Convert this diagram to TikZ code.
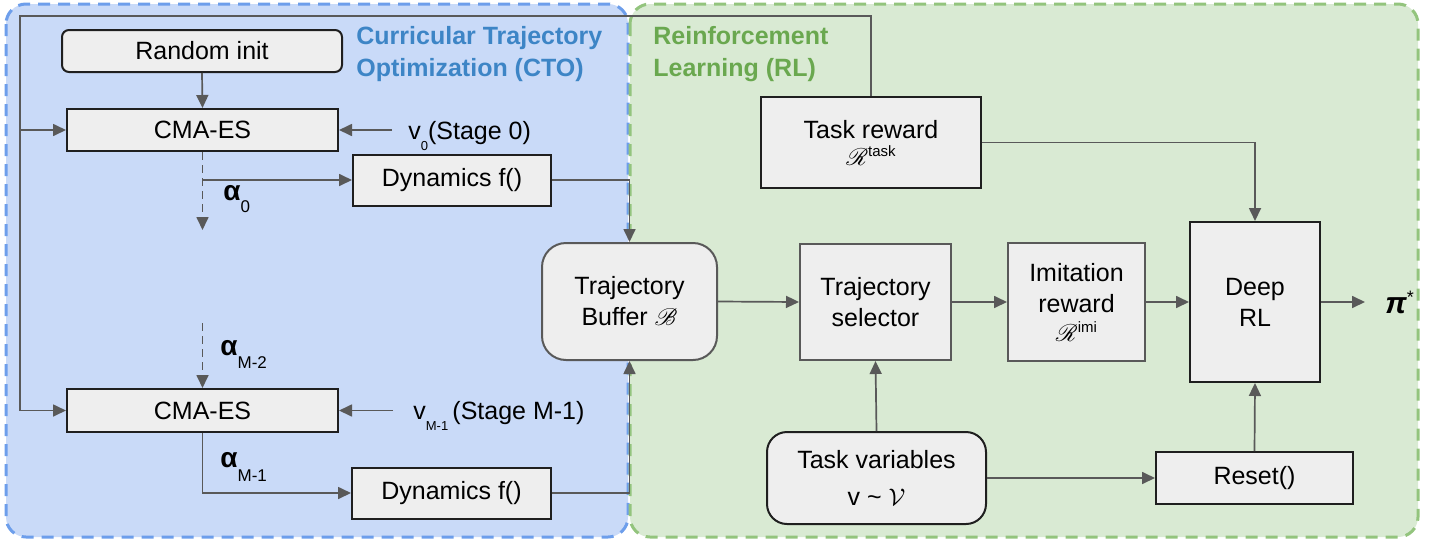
\documentclass[tikz,border=0pt]{standalone}
\usepackage{fontspec}
\setmainfont{Liberation Sans}
\usepackage{amsmath,bm,mathrsfs}
\usetikzlibrary{arrows.meta}

\definecolor{ctofill}{HTML}{C9DAF8}
\definecolor{ctoedge}{HTML}{6D9EEB}
\definecolor{rlfill}{HTML}{D9EAD3}
\definecolor{rledge}{HTML}{93C47D}
\definecolor{boxfill}{HTML}{EEEEEE}
\definecolor{wirecol}{HTML}{595959}
\definecolor{ctotext}{HTML}{3D85C6}
\definecolor{rltext}{HTML}{6AA84F}

% lowered subscript in text font
\newcommand{\lowsub}[3]{\raisebox{-#1}{\fontsize{#2}{#2}\selectfont #3}}
% script R with a raised text superscript
\newcommand{\rwd}[1]{{\fontsize{12}{12}\selectfont$\mathscr{R}$}\raisebox{4.5pt}{\fontsize{7.5}{7.5}\selectfont #1}}
\newcommand{\balpha}{{\fontsize{14}{14}\selectfont\bfseries α}}

\begin{document}
\begin{tikzpicture}[x=0.5pt,y=-0.5pt,
  region/.style={line width=1.5pt, dash pattern=on 6pt off 4pt, rounded corners=10pt},
  box/.style={draw=black!88, line width=1pt, fill=boxfill, inner sep=0pt, align=center,
              font=\fontsize{12.5}{15.5}\selectfont},
  rbox/.style={box, rounded corners=3.5pt},
  gbox/.style={box, draw=wirecol},
  title/.style={anchor=west, align=left, inner sep=0pt, font=\fontsize{12.5}{16}\selectfont\bfseries},
  lbl/.style={inner ysep=0pt, font=\fontsize{12.5}{15}\selectfont},
  wire/.style={draw=wirecol, line width=0.85pt},
  arr/.style={wire, -{Triangle[length=6.5pt,width=6pt]}},
  darr/.style={arr, dash pattern=on 4pt off 2.5pt}]

\useasboundingbox (0,0) rectangle (1434,541);

% the two stage regions
\draw[region, draw=ctoedge, fill=ctofill] (6,4) rectangle (628,537);
\draw[region, draw=rledge, fill=rlfill] (630,4) rectangle (1418,537);

\node[title, text=ctotext] (ctotitle) at (356,54) {Curricular Trajectory\\Optimization (CTO)};
\node[title, text=rltext] (rltitle) at (653,54) {Reinforcement\\Learning (RL)};

% trajectory optimization blocks
\node[rbox, minimum width=140pt, minimum height=21pt] (rinit) at (202,51) {Random init};
\node[box, minimum width=135.5pt, minimum height=21pt] (cmaA) at (202.5,130) {CMA-ES};
\node[box, minimum width=99pt, minimum height=25.5pt] (dynA) at (452,180) {Dynamics f()};
\node[box, minimum width=135.5pt, minimum height=21.5pt] (cmaB) at (202.5,410.5) {CMA-ES};
\node[box, minimum width=99.5pt, minimum height=25.5pt] (dynB) at (451.5,493) {Dynamics f()};

% reinforcement learning blocks
\node[gbox, rounded corners=12pt, minimum width=87.5pt, minimum height=58.5pt] (buf) at (629.5,301.5)
  {Trajectory\\Buffer $\mathscr{B}$};
\node[box, minimum width=110pt, minimum height=45.5pt] (task) at (871,142.5)
  {Task reward\\[-2pt]\rwd{task}};
\node[gbox, minimum width=75.5pt, minimum height=58pt] (sel) at (875.5,302) {Trajectory\\selector};
\node[gbox, minimum width=68.5pt, minimum height=59pt] (imi) at (1076.5,302)
  {Imitation\\reward\\[-1pt]\rwd{imi}};
\node[box, minimum width=65pt, minimum height=80pt] (drl) at (1255,302) {Deep\\RL};
\node[box, minimum width=98.5pt, minimum height=26pt] (reset) at (1254.5,478) {Reset()};
\node[rbox, rounded corners=10pt, minimum width=109.5pt, minimum height=46pt] (tvar) at (876.5,478)
  {Task variables\\[3pt]v \textasciitilde\ {\fontsize{13}{13}\selectfont$\mathcal{V}$}};
\node[anchor=west, inner ysep=0pt, inner xsep=10pt] (pi) at (1365,302)
  {{\fontsize{15}{15}\selectfont\bfseries\itshape π}\raisebox{5pt}{\fontsize{9}{9}\selectfont *}};

% stage inputs and intermediate solutions
\node[lbl, anchor=base west, inner xsep=8pt] (vA) at (392,139)
  {v\lowsub{5.5pt}{6.5}{0}(Stage 0)};
\node[lbl, anchor=base west, inner xsep=10pt] (vB) at (393,419)
  {v\lowsub{5.5pt}{6.5}{M-1}\,(Stage M-1)};
\node[anchor=base west, inner sep=0pt] (alA) at (223,200) {\balpha\lowsub{6pt}{8.5}{0}};
\node[anchor=base west, inner sep=0pt] (alM) at (220,355) {\balpha\lowsub{6.5pt}{8.5}{M-2}};
\node[anchor=base west, inner sep=0pt] (alB) at (220,467) {\balpha\lowsub{7pt}{8.5}{M-1}};

\coordinate (loopTL) at (20,16);
\coordinate (aAend) at (202.5,230);
\coordinate (aMstart) at (202.5,323);

% connectors
\draw[arr] (rinit.south) -- (cmaA.north);
\draw[arr] (task.north) |- (loopTL) |- (cmaB.west);
\draw[arr] (loopTL |- cmaA.west) -- (cmaA.west);
\draw[arr] (vA.west |- cmaA.east) -- (cmaA.east);
\draw[arr] (vB.west |- cmaB.east) -- (cmaB.east);
\draw[darr] (cmaA.south) -- (aAend);
\draw[arr] (cmaA.south |- dynA.west) -- (dynA.west);
\draw[darr] (aMstart) -- (cmaB.north);
\draw[arr] (cmaB.south) |- (dynB.west);
\draw[arr] (dynA.east) -| (buf.north);
\draw[arr] (dynB.east) -| (buf.south);
\draw[arr] (buf.east) -- (sel.west);
\draw[arr] (sel.east) -- (imi.west);
\draw[arr] (imi.east) -- (drl.west);
\draw[arr] (drl.east) -- (pi.west);
\draw[arr] (task.east) -| (drl.north);
\draw[arr] (tvar.north) -- (sel.south);
\draw[arr] (tvar.east) -- (reset.west);
\draw[arr] (reset.north) -- (drl.south);
\end{tikzpicture}
\end{document}
